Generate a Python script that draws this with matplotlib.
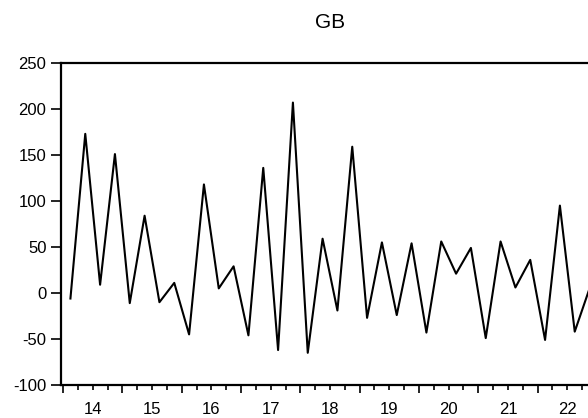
import matplotlib
matplotlib.use('Agg')
import matplotlib.pyplot as plt
from matplotlib.ticker import FixedLocator, NullFormatter

plt.rcParams['font.family'] = ['Liberation Sans', 'DejaVu Sans']

title = 'GB'
quarters = [f'{y}Q{q}' for y in range(2014, 2023) for q in range(1, 5)]
values = [-6, 173, 9, 151,
          -11, 84, -10, 11,
          -45, 118, 5, 29,
          -46, 136, -62, 207,
          -65, 59, -19, 159,
          -27, 55, -24, 54,
          -43, 56, 21, 49,
          -49, 56, 6, 36,
          -51, 95, -42, 5]
year_labels = ['14', '15', '16', '17', '18', '19', '20', '21', '22']
y_ticks = [-100, -50, 0, 50, 100, 150, 200, 250]

x = [int(q[:4]) + (int(q[-1]) - 0.5) / 4 for q in quarters]
first_year = int(quarters[0][:4])
years = [first_year + i for i in range(len(year_labels) + 1)]

W, H = 588, 418
fig = plt.figure(figsize=(W / 100, H / 100), dpi=100)
left, right, top, bottom = 61, 599, 63, 385
ax = fig.add_axes([left / W, (H - bottom) / H, (right - left) / W, (bottom - top) / H])

ax.plot(x, values, color='black', linewidth=1.5)

ax.set_xlim(years[0] - 0.034, years[-1] + 0.034)
ax.set_ylim(y_ticks[0], y_ticks[-1])

for s in ax.spines.values():
    s.set_linewidth(1.6)
ax.spines['right'].set_visible(False)

ax.set_yticks(y_ticks)
ax.set_yticklabels([str(v) for v in y_ticks])
ax.tick_params(axis='y', direction='out', length=7.5, width=1.2, pad=3,
               labelsize=12, colors='black')

# major ticks at year boundaries, quarter minor ticks, labels centred in year
ax.xaxis.set_major_locator(FixedLocator(years))
ax.xaxis.set_major_formatter(NullFormatter())
quarter_ticks = [y + q / 4 for y in years[:-1] for q in range(1, 4)]
ax.xaxis.set_minor_locator(FixedLocator(quarter_ticks))
ax.tick_params(axis='x', which='major', direction='out', length=6, width=1.2)
ax.tick_params(axis='x', which='minor', direction='out', length=3.5, width=1.2)

sec = ax.secondary_xaxis('bottom')
sec.set_xticks([y + 0.5 for y in years[:-1]])
sec.set_xticklabels(year_labels)
sec.tick_params(length=0, pad=12, labelsize=12, colors='black')
sec.spines['bottom'].set_visible(False)

fig.text((left + right) / 2 / W, 1 - 22 / H, title, ha='center', va='center',
         fontsize=15, color='black')

fig.savefig('out.png', dpi=100)
